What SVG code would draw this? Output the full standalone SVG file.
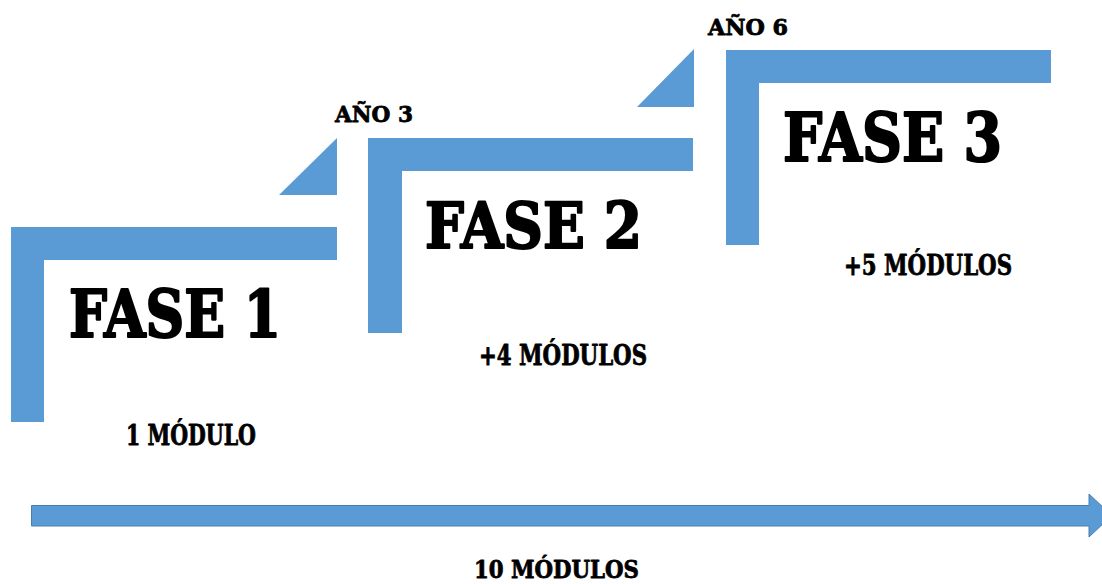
<svg xmlns="http://www.w3.org/2000/svg" width="1102" height="584" viewBox="0 0 1102 584">
<style>
.b{fill:#5B9BD5}
.t{font-family:"DejaVu Serif","Liberation Serif",serif;font-weight:bold;fill:#000;stroke:#000;stroke-width:0.8;stroke-linejoin:round}
.big{stroke-width:2.2}
</style>
<rect width="1102" height="584" fill="#fff"/>
<g id="fase1">
<path class="b" d="M11 227H337V260H44V422H11Z"/>
<text class="t big" x="69" y="337" font-size="66" textLength="212" lengthAdjust="spacingAndGlyphs">FASE 1</text>
<text class="t" x="126" y="445" font-size="27" textLength="130" lengthAdjust="spacingAndGlyphs">1 MÓDULO</text>
</g>
<g id="step1">
<path class="b" d="M337 138V195H279Z"/>
<text class="t" x="335" y="122" font-size="23" textLength="78" lengthAdjust="spacingAndGlyphs">AÑO 3</text>
</g>
<g id="fase2">
<path class="b" d="M368 138H693V171H402V333H368Z"/>
<text class="t big" x="425" y="248" font-size="63" textLength="217" lengthAdjust="spacingAndGlyphs">FASE 2</text>
<text class="t" x="479" y="365" font-size="27" textLength="168" lengthAdjust="spacingAndGlyphs">+4 MÓDULOS</text>
</g>
<g id="step2">
<path class="b" d="M694 49V107H637Z"/>
<text class="t" x="708" y="35" font-size="22" textLength="80" lengthAdjust="spacingAndGlyphs">AÑO 6</text>
</g>
<g id="fase3">
<path class="b" d="M726 50H1051V83H759V245H726Z"/>
<text class="t big" x="783" y="161" font-size="68" textLength="219" lengthAdjust="spacingAndGlyphs">FASE 3</text>
<text class="t" x="844" y="275" font-size="27" textLength="168" lengthAdjust="spacingAndGlyphs">+5 MÓDULOS</text>
</g>
<g id="connectors">
<path d="M31.5 505.5H1089V494L1112 515.5L1089 537V526H31.5Z" fill="#5B9BD5" stroke="#4A7EB0" stroke-width="1"/>
</g>
<g id="total">
<text class="t" x="474" y="578" font-size="24" textLength="165" lengthAdjust="spacingAndGlyphs">10 MÓDULOS</text>
</g>
</svg>
